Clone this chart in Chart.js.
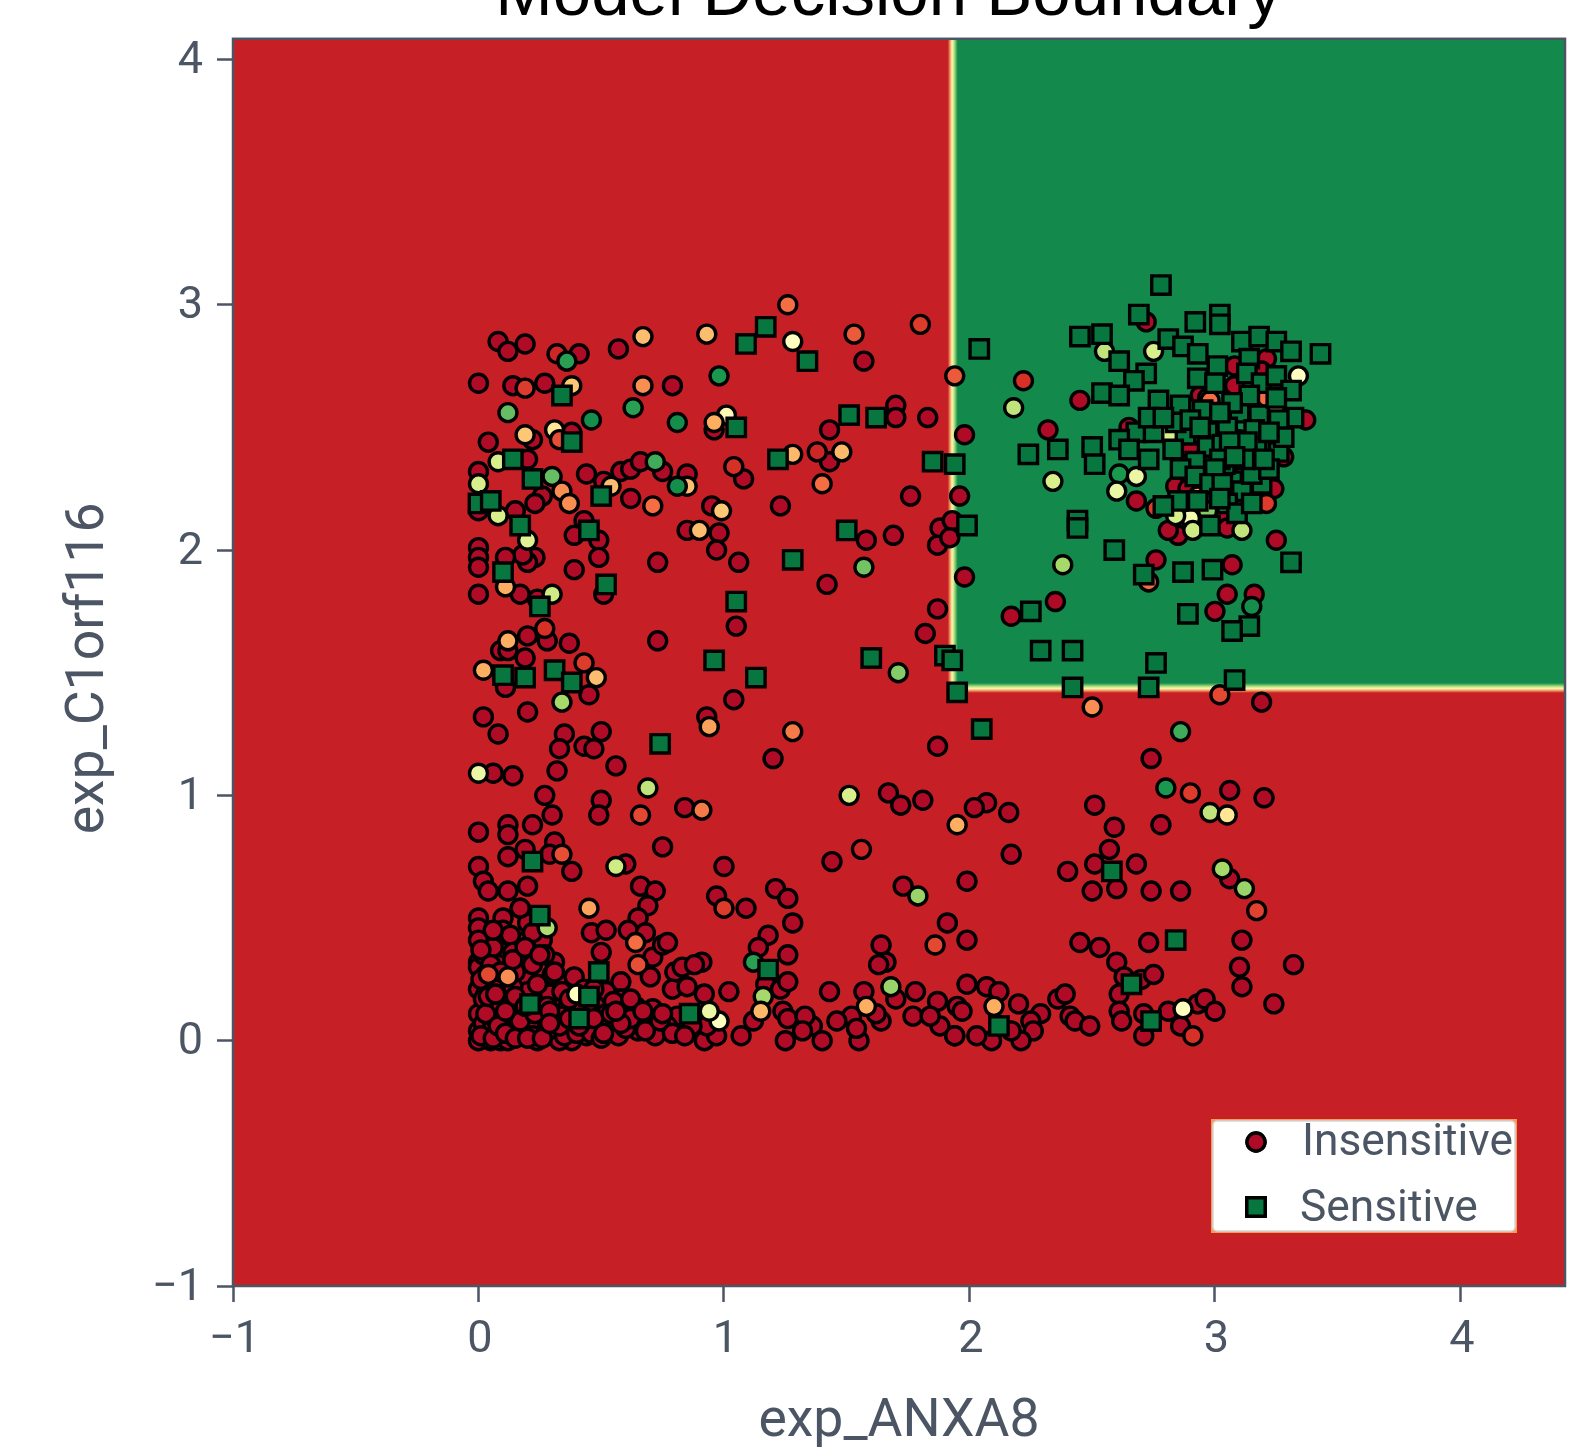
<!DOCTYPE html>
<html>
<head>
<meta charset="utf-8">
<title>Model Decision Boundary</title>
<script src="https://cdn.jsdelivr.net/npm/chart.js@4"></script>
<style>
  html, body { margin: 0; padding: 0; background: #fff; overflow: hidden; }
  /* the title is cut off by the top edge in the original, and the original is a soft upscale */
  #chart { display: block; margin-top: -50px; filter: blur(0.6px); }
</style>
</head>
<body>
<canvas id="chart" width="1590" height="1499"></canvas>
<script>
// axis limits and tree split points, in data units
const xLimits = [-1, 4.426];
const yLimits = [-1, 4.084];
const splitX = 1.932;
const splitY = 1.438;
const tickValues = [-1, 0, 1, 2, 3, 4];
const legendLabels = ['Insensitive', 'Sensitive'];

// insensitive samples with a very low score
const redX = [
  .08,.12,.19,.41,.57,1.57,0,.14,.27,.79,
  .96,1.70,1.70,1.83,1.43,.04,.22,.38,1.43,.20,
  0,.44,.58,.62,.66,.75,.85,1.08,.51,.26,
  .23,0,.15,.62,1.76,1.23,.95,.85,.98,
  .97,1.06,.43,.39,.49,.49,.39,.73,.23,.20,
  .18,.11,0,0,0,.17,.24,0,.51,1.58,
  1.69,1.42,1.05,1.87,1.82,1.88,1.93,1.87,1.92,.73,
  .20,.28,.37,.09,.12,.19,
  .11,.45,.02,.20,.08,.35,.50,.33,.43,.47,
  .56,.32,.06,.14,.27,.50,.49,.84,.30,.12,
  .22,.12,0,.31,.29,.19,.12,.38,0,.02,
  .04,.12,.20,.60,.75,1.00,1.20,.93,1.04,1.87,
  1.67,1.72,1.81,1.44,1.73,.66,.72,.69,.17,0,
  0,0,.10,.10,.20,.17,.26,.10,.16,.08,
  0,0,.65,.61,.68,.46,.52,.50,.31,.30,
  .71,.75,.77,.70,.80,.83,.91,.88,.79,.85,
  .92,1.02,.97,1.09,1.21,1.26,1.28,1.18,1.14,1.26,
  1.17,1.23,1.26,1.12,1.07,1.24,1.26,1.43,1.57,1.78,
  1.64,1.66,1.63,1.91,1.70,1.87,1.95,1.64,1.62,1.52,
  1.46,1.36,1.33,1.40,1.55,1.25,1.32,1.54,1.77,1.88,
  1.84,1.94,.92,.97,.93,.87,.81,.77,.72,.65,
  .55,.55,.48,.44,.38,.33,.28,.69,.60,.64,
  .71,.58,.35,.39,.52,.32,.36,.24,.25,.16,
  .10,.06,0,0,0,.10,.12,.19,.23,.03,
  0,.02,.05,.09,.12,.24,.26,.16,.29,.43,
  .58,.66,.48,.52,.43,.32,.38,.17,.04,.08,
  .02,.05,.07,.04,.02,.09,.13,.14,.19,.21,
  .18,.22,.28,.31,.34,.35,.40,.42,.46,.50,
  .53,.57,.60,.62,.68,.74,.46,.39,.28,.20,
  .14,.06,.03,.15,.22,.27,.02,.06,.13,.22,
  .06,.14,.45,.55,.62,.67,.75,.79,.84,
  .01,.03,.06,.08,.11,.13,.15,.17,.20,.23,
  .26,.29,.33,.37,.41,.44,.47,.51,.54,.58,
  .01,.04,.07,.11,.15,.19,.24,.29,.34,.41,
  .01,.05,.09,.14,.19,.25,.31,.37,.47,.56,
  3.19,2.74,3.06,3.20,2.78,2.51,2.59,2.57,2.51,2.68,
  2.40,2.50,2.60,2.74,2.86,3.06,3.11,2.73,2.45,2.53,
  2.60,2.63,2.70,2.75,2.61,3.10,3.11,3.32,3.24,2.17,
  1.99,1.99,2.07,2.02,2.16,1.99,2.07,2.12,2.20,2.29,
  2.25,2.26,2.21,2.09,2.03,1.94,1.97,2.17,2.36,2.39,
  2.41,2.43,2.49,2.61,2.62,2.71,2.71,2.81,2.86,2.93,
  2.96,3.00,
  2.45,2.32,1.98,1.96,1.98,2.17,2.35,2.76,3.07,3.25,
  3.05,3.16,3.00,2.72,3.21,3.19,3.08,3.08,2.94,3.37,
  2.65,2.90,3.11,3.28,3.06,2.68,3.24,2.98,2.84,2.89,
  3.03,2.85,2.85,2.81,3.05
];
const redY = [
  2.85,2.81,2.84,2.80,2.82,2.77,2.68,2.67,2.68,2.67,
  2.49,2.59,2.54,2.54,2.49,2.44,2.45,2.48,2.36,2.37,
  2.32,2.31,2.32,2.33,2.36,2.32,2.31,2.29,2.28,2.22,
  2.19,2.16,2.16,2.21,2.22,2.18,2.18,2.08,2.07,
  2.00,1.95,2.12,2.06,2.04,1.97,1.92,1.95,1.97,1.95,
  1.98,1.97,2.01,1.97,1.93,1.82,1.80,1.82,1.82,2.04,
  2.06,1.86,1.69,1.76,1.66,2.09,2.12,2.02,2.05,1.63,
  1.65,1.63,1.62,1.59,1.59,1.56,
  1.44,1.41,1.32,1.34,1.25,1.25,1.26,1.19,1.20,1.19,
  1.12,1.10,1.09,1.08,1.00,.98,.92,.95,.92,.88,
  .88,.84,.85,.81,.76,.78,.75,.69,.71,.65,
  .61,.61,.63,.72,.79,.71,1.15,1.32,1.39,1.20,
  1.01,.96,.98,.73,.63,.63,.61,.55,.54,.50,
  .46,.41,.50,.45,.48,.40,.41,.36,.32,.31,
  .32,.30,.50,.45,.44,.44,.45,.36,.32,.27,
  .34,.39,.40,.26,.28,.30,.32,.31,.21,.22,
  .19,.20,.59,.54,.62,.58,.48,.43,.38,.35,
  .23,.21,.24,.08,.02,.12,.09,.20,.20,.20,
  .39,.32,.31,.48,.17,.16,.14,.08,.11,.10,
  .08,.06,.10,0,0,0,.04,.05,.10,.06,
  .10,.02,0,.02,.06,.06,.10,.06,.02,.04,
  .08,.04,.06,.02,0,0,.04,.10,.13,.14,
  .13,.24,.24,.26,.20,.17,.13,.14,.10,.04,
  .06,.13,.21,.11,.04,.22,.17,.26,.19,.19,
  0,.02,0,0,0,0,.03,.09,.19,.21,
  .17,.07,.14,.11,.11,.08,.06,.54,.10,.04,
  .07,.04,.09,.14,.17,.14,.09,.04,.03,.07,
  .11,.02,.09,.05,.10,.02,.03,.07,.03,.01,
  .06,.02,.05,.09,.04,.08,.10,.13,.14,.20,
  .22,.24,.27,.28,.31,.35,.35,.38,.43,.44,
  .45,.36,.16,.16,.17,.12,.11,.03,.02,
  .02,.11,.01,.06,.03,.13,.01,.08,.01,.11,
  .01,.12,.06,.09,.06,.14,.09,.03,.11,.07,
  .25,.18,.19,.12,.18,.14,.23,.07,.20,.16,
  .37,.31,.28,.33,.38,.35,.28,.17,.21,.12,
  1.38,1.15,1.02,.99,.88,.96,.87,.78,.72,.72,
  .69,.61,.62,.61,.61,.66,.41,.40,.40,.38,
  .32,.26,.25,.27,.19,.30,.22,.31,.15,.76,
  .65,.41,.97,.95,.93,.23,.22,.20,.15,.11,
  .08,.04,0,0,.02,.02,.12,.04,.17,.19,
  .10,.08,.06,.12,.08,.11,.02,.12,.06,.15,
  .17,.12,
  2.61,2.49,2.47,2.22,1.89,1.73,1.79,1.96,1.94,2.04,
  1.82,1.82,1.75,2.93,2.78,2.73,2.75,2.67,2.63,2.53,
  2.50,2.41,2.42,2.38,2.35,2.20,2.25,2.28,2.26,2.25,
  2.14,2.10,2.06,2.08,2.09
];
const redScore = 0.02;

// insensitive samples whose score reads as orange, yellow or green
const midX = [
  .32,.36,.67,.93,1.26,1.28,1.53,1.80,.19,.38,
  .67,.98,1.94,.12,.46,.63,.81,1.01,.96,.19,
  .31,.33,1.38,1.48,1.28,.08,.30,.72,.85,.81,
  1.04,.54,0,.34,.37,.08,.71,1.40,.99,.90,
  .20,.11,.30,1.57,1.71,.27,.12,.02,.43,.48,
  .34,0,.69,.66,.91,.34,.56,1.28,.94,1.51,
  1.95,1.56,1.79,.45,.28,.64,.65,1.00,1.12,1.16,
  1.15,1.68,1.86,1.58,.98,.94,.40,.04,.12,
  3.02,2.50,2.86,2.80,2.90,2.98,3.05,3.03,3.12,3.17,
  2.10,2.87,2.91,
  2.22,2.18,2.34,2.38,2.73,3.15,2.55,2.75,3.34,3.21,
  2.97,2.98,3.25,2.84,2.81,3.07,3.26,3.10,2.61,2.68,
  2.60,3.21,2.93,2.76,2.97,2.90,2.84,2.91,3.11
];
const midY = [
  2.80,2.77,2.87,2.88,3.00,2.85,2.88,2.92,2.66,2.67,
  2.67,2.71,2.71,2.56,2.53,2.58,2.52,2.55,2.52,2.47,
  2.49,2.45,2.40,2.40,2.39,2.36,2.30,2.36,2.26,2.26,
  2.34,2.26,2.27,2.24,2.19,2.14,2.18,2.27,2.16,2.08,
  2.04,1.85,1.82,1.93,1.50,1.68,1.63,1.51,1.54,1.48,
  1.38,1.09,1.03,.92,.94,.76,.71,1.26,1.28,1.00,
  .88,.78,.59,.54,.46,.40,.31,.54,.32,.18,
  .12,.22,.39,.14,.08,.12,.19,.27,.26,
  1.41,1.36,1.26,1.03,1.01,.93,.92,.70,.62,.53,
  .14,.13,.02,
  2.69,2.58,2.28,1.94,1.87,1.77,2.81,2.81,2.71,2.62,
  2.62,2.61,2.59,2.51,2.47,2.39,2.44,2.45,2.31,2.30,
  2.24,2.19,2.22,2.17,2.16,2.13,2.14,2.08,2.08
];
const midScore = [
  .08,.88,.33,.33,.2,.5,.17,.12,.12,.35,
  .25,.9,.17,.8,.92,.88,.92,.48,.3,.35,
  .42,.15,.08,.32,.32,.6,.8,.85,.33,.92,
  .1,.33,.6,.25,.25,.6,.2,.2,.35,.33,
  .58,.3,.62,.78,.75,.1,.3,.3,.12,.33,
  .7,.55,.65,.14,.22,.15,.62,.22,.28,.6,
  .3,.08,.72,.28,.68,.2,.15,.12,.88,.7,
  .32,.72,.14,.3,.5,.55,.5,.14,.25,
  .14,.25,.85,.9,.12,.65,.42,.7,.72,.13,
  .3,.5,.1,
  .1,.65,.6,.7,.2,.92,.65,.6,.5,.2,
  .2,.2,.7,.5,.6,.52,.6,.6,.9,.55,
  .55,.12,.3,.12,.75,.53,.6,.62,.65
];

// sensitive samples
const sensX = [
  1.09,1.17,1.34,.34,1.05,1.51,1.62,.38,1.22,1.85,
  1.94,.14,.22,.50,0,.05,.17,.45,.10,.25,
  .52,1.50,1.28,1.05,.96,1.60,1.90,1.93,1.13,.10,
  .19,.31,.38,.22,.74,.25,.49,.45,.41,.21,
  .86,1.18,1.95,2.05,2.42,2.73,3.08,2.58,2.84,2.66,
  2.12,2.74,2.04,2.24,2.36,2.50,2.51,1.99,2.44,2.44,
  2.59,2.25,2.29,2.42,2.76,2.71,2.87,2.99,3.31,3.14,
  3.07,2.89,2.78,2.69,2.92,3.02,3.02,2.45,2.54,2.61,
  2.81,2.87,2.93,3.11,3.18,3.25,3.31,3.43,2.72,2.67,
  2.54,2.61,2.77,2.86,2.95,3.01,2.93,3.00,3.14,3.13,
  3.19,3.25,3.31,3.10,3.18,3.14,3.32,3.26,3.05,2.97,
  3.16,2.68,2.75,2.73,2.88,2.61,2.65,2.73,2.83,2.97,
  3.17,3.16,3.26,3.03,2.92,2.86,2.92,3.07,3.19,3.11,
  3.05,2.85,2.79,3.09,2.98,
  3.07,3.25,3.13,3.06,3.04,3.15,3.22,3.02,2.84,2.90,
  3.02,3.00,3.12,2.98,3.03,3.20,3.02,2.93,3.15,3.28,
  3.22,3.08,2.94,2.79
];
const sensY = [
  2.84,2.91,2.77,2.63,2.50,2.55,2.54,2.44,2.37,2.36,
  2.35,2.37,2.29,2.22,2.19,2.20,2.10,2.08,1.91,1.77,
  1.86,2.08,1.96,1.79,1.55,1.56,1.57,1.55,1.48,1.49,
  1.48,1.51,1.46,.73,1.21,.51,.28,.18,.09,.15,
  .11,.29,1.42,1.27,1.44,1.44,1.47,.69,.41,.23,
  .06,.08,2.82,2.39,2.41,2.42,2.35,2.10,2.12,2.09,
  2.00,1.75,1.59,1.59,1.54,1.90,1.91,1.92,1.95,1.69,
  1.67,1.74,3.08,2.96,2.93,2.96,2.92,2.87,2.88,2.77,
  2.86,2.83,2.80,2.85,2.87,2.85,2.81,2.80,2.72,2.69,
  2.64,2.63,2.61,2.59,2.57,2.75,2.70,2.68,2.78,2.72,
  2.68,2.71,2.65,2.56,2.55,2.63,2.54,2.53,2.50,2.48,
  2.49,2.48,2.48,2.54,2.47,2.45,2.41,2.37,2.41,2.42,
  2.42,2.36,2.40,2.43,2.36,2.33,2.30,2.28,2.27,2.24,
  2.19,2.20,2.18,2.15,2.10,
  2.60,2.62,2.44,2.44,2.35,2.31,2.33,2.56,2.52,2.53,
  2.37,2.33,2.37,2.27,2.27,2.37,2.21,2.20,2.19,2.46,
  2.48,2.38,2.50,2.54
];
const sensScore = 0.97;

// RdYlGn
const rdYlGn = ['#a50026','#d73027','#f46d43','#fdae61','#fee08b','#ffffbf','#d9ef8b','#a6d96a','#66bd63','#1a9850','#006837'];
const inkColor = '#4b5563';
const regionRed = '#c62026';
const regionGreen = '#138a4c';

function scoreColor(t) {
  const pos = t * (rdYlGn.length - 1);
  const i = Math.min(Math.floor(pos), rdYlGn.length - 2);
  const f = pos - i;
  const a = rdYlGn[i], b = rdYlGn[i + 1];
  const ch = s => [1, 3, 5].map(k => parseInt(s.substr(k, 2), 16));
  const ca = ch(a), cb = ch(b);
  return `rgb(${ca.map((v, k) => Math.round(v + (cb[k] - v) * f)).join(',')})`;
}

const insData = redX.map((x, i) => ({ x, y: redY[i] }))
  .concat(midX.map((x, i) => ({ x, y: midY[i] })));
const insColors = redX.map(() => scoreColor(redScore))
  .concat(midScore.map(scoreColor));
const sensData = sensX.map((x, i) => ({ x, y: sensY[i] }));

function bandStops(g, from, to) {
  g.addColorStop(0, from);
  g.addColorStop(0.2, '#ee8a50');
  g.addColorStop(0.42, '#fdf3b4');
  g.addColorStop(0.6, '#cbe88c');
  g.addColorStop(0.8, '#62bb62');
  g.addColorStop(1, to);
}

// decision regions, painted through the scales under the points
const regionsPlugin = {
  id: 'regions',
  afterLayout(chart) {
    // title sits a little left of the plot centre in the original
    chart.titleBlock.left = 0;
    chart.titleBlock.right = 1777;
    // y axis title sits a little below the plot centre
    const yScale = chart.scales.y;
    if (!yScale.shiftedTitle) {
      const drawTitle = yScale.drawTitle.bind(yScale);
      yScale.drawTitle = () => {
        chart.ctx.save();
        chart.ctx.translate(0, 6);
        drawTitle();
        chart.ctx.restore();
      };
      yScale.shiftedTitle = true;
    }
  },
  beforeDatasetsDraw(chart) {
    const { ctx, chartArea: a, scales: { x, y } } = chart;
    const sx = x.getPixelForValue(splitX);
    const sy = y.getPixelForValue(splitY);
    const half = 5;
    ctx.save();
    ctx.fillStyle = regionRed;
    ctx.fillRect(a.left, a.top, a.width, a.height);
    ctx.fillStyle = regionGreen;
    ctx.fillRect(sx, a.top, a.right - sx, sy - a.top);
    let g = ctx.createLinearGradient(sx - half, 0, sx + half, 0);
    bandStops(g, regionRed, regionGreen);
    ctx.fillStyle = g;
    ctx.fillRect(sx - half, a.top, half * 2, sy - a.top);
    g = ctx.createLinearGradient(0, sy + half, 0, sy - half);
    bandStops(g, regionRed, regionGreen);
    ctx.fillStyle = g;
    ctx.fillRect(sx - half, sy - half, a.right - sx + half, half * 2);
    ctx.restore();
  },
  afterDatasetsDraw(chart) {
    const { ctx, chartArea: a } = chart;
    ctx.save();
    // frame
    ctx.strokeStyle = inkColor;
    ctx.lineWidth = 2.5;
    ctx.strokeRect(a.left, a.top, a.width, a.height);
    // legend box in the lower right corner
    const lx = a.right - 354, ly = a.bottom - 167, lw = 306, lh = 114;
    ctx.fillStyle = '#f79a5a';
    ctx.fillRect(lx, ly, lw, lh);
    ctx.fillStyle = '#fff';
    ctx.strokeStyle = '#d4d6d8';
    ctx.lineWidth = 1.5;
    ctx.beginPath();
    ctx.roundRect(lx + 2, ly + 2, lw - 4, lh - 4, 4);
    ctx.fill();
    ctx.stroke();
    const mark = (style, radius, cy, t) => {
      ctx.fillStyle = scoreColor(t);
      ctx.strokeStyle = '#000';
      ctx.lineWidth = 3.4;
      Chart.helpers.drawPoint(ctx, { pointStyle: style, radius, borderWidth: 3.4, rotation: 0 }, lx + 45, cy);
      ctx.fill();
      ctx.stroke();
    };
    mark('circle', 9, ly + 23, redScore);
    mark('rect', 13, ly + 88, sensScore);
    ctx.fillStyle = inkColor;
    ctx.font = '44.3px Roboto';
    ctx.textAlign = 'left';
    ctx.textBaseline = 'alphabetic';
    ctx.fillText(legendLabels[0], lx + 91, ly + 36);
    ctx.fillText(legendLabels[1], lx + 89, ly + 102);
    ctx.restore();
  }
};

const tickLabel = v => String(v).replace('-', '\u2212');

new Chart(document.getElementById('chart'), {
  type: 'scatter',
  data: {
    datasets: [
      {
        label: legendLabels[1],
        data: sensData,
        pointStyle: 'rect',
        pointRadius: 13,
        pointBackgroundColor: scoreColor(sensScore),
        pointBorderColor: '#000',
        pointBorderWidth: 3.4
      },
      {
        label: legendLabels[0],
        data: insData,
        pointStyle: 'circle',
        pointRadius: 9,
        pointBackgroundColor: insColors,
        pointBorderColor: '#000',
        pointBorderWidth: 3.4
      }
    ]
  },
  options: {
    responsive: false,
    animation: false,
    events: [],
    layout: { padding: { left: 0, right: 25, top: 0, bottom: 0 } },
    plugins: {
      legend: { display: false },
      tooltip: { enabled: false },
      title: {
        display: true,
        text: 'Model Decision Boundary',
        color: '#000',
        font: { family: '"Liberation Sans"', size: 69, weight: 'normal', lineHeight: 1.2 },
        padding: { top: 5, bottom: 1 }
      }
    },
    scales: {
      x: {
        type: 'linear',
        min: xLimits[0],
        max: xLimits[1],
        afterBuildTicks: s => { s.ticks = tickValues.map(value => ({ value })); },
        afterFit: s => { s.height = 163; },
        grid: { drawOnChartArea: false, tickLength: 16, tickColor: inkColor, tickWidth: 2.5 },
        border: { display: false },
        ticks: { callback: tickLabel, color: inkColor, font: { family: 'Roboto', size: 45 }, padding: 12, maxRotation: 0, labelOffset: 1.5 },
        title: { display: true, text: 'exp_ANXA8', color: inkColor, font: { family: 'Roboto', size: 53.5, lineHeight: 1 }, padding: { top: 0, bottom: 0 } }
      },
      y: {
        type: 'linear',
        min: yLimits[0],
        max: yLimits[1],
        afterBuildTicks: s => { s.ticks = tickValues.map(value => ({ value })); },
        afterFit: s => { s.width = 233; },
        grid: { drawOnChartArea: false, tickLength: 16, tickColor: inkColor, tickWidth: 2.5 },
        border: { display: false },
        ticks: { callback: tickLabel, color: inkColor, font: { family: 'Roboto', size: 45 }, padding: 14, labelOffset: 2.5 },
        title: { display: true, text: 'exp_C1orf116', color: inkColor, font: { family: 'Roboto', size: 53.5, lineHeight: 1 }, padding: { top: 63, bottom: 0 } }
      }
    }
  },
  plugins: [regionsPlugin]
});
</script>
</body>
</html>
